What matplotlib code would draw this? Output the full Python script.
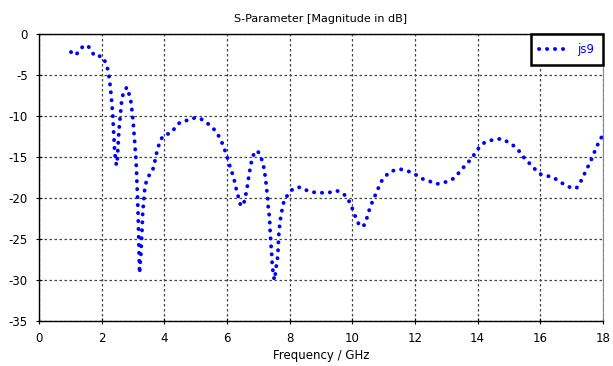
import matplotlib
matplotlib.use("Agg")
import matplotlib.pyplot as plt

freq = [1.02, 1.14, 1.27, 1.40, 1.55, 1.67, 1.77, 1.93, 2.04, 2.15, 2.20, 2.24, 2.28, 2.31,
        2.35, 2.37, 2.39, 2.41, 2.44, 2.47, 2.50, 2.53, 2.55, 2.58, 2.61, 2.64, 2.69, 2.80,
        2.88, 2.93, 2.97, 3.00, 3.03, 3.06, 3.09, 3.11, 3.13, 3.15, 3.17, 3.19, 3.21, 3.22,
        3.25, 3.27, 3.29, 3.31, 3.33, 3.37, 3.40, 3.50, 3.60, 3.66, 3.71, 3.76, 3.82, 3.90,
        4.00, 4.20, 4.33, 4.46, 4.60, 4.80, 4.98, 5.15, 5.30, 5.45, 5.58, 5.70, 5.80, 5.89,
        5.96, 6.03, 6.09, 6.16, 6.22, 6.27, 6.32, 6.38, 6.44, 6.54, 6.59, 6.63, 6.67, 6.70,
        6.74, 6.78, 6.85, 6.96, 7.07, 7.13, 7.19, 7.22, 7.25, 7.27, 7.30, 7.31, 7.34, 7.36,
        7.37, 7.38, 7.40, 7.41, 7.43, 7.44, 7.46, 7.49, 7.51, 7.54, 7.57, 7.61, 7.63, 7.64,
        7.65, 7.67, 7.69, 7.72, 7.76, 7.80, 7.83, 7.93, 8.04, 8.20, 8.37, 8.56, 8.74, 8.92,
        9.11, 9.30, 9.50, 9.67, 9.81, 9.91, 9.99, 10.07, 10.14, 10.25, 10.38, 10.46, 10.52,
        10.59, 10.67, 10.76, 10.84, 10.94, 11.07, 11.20, 11.36, 11.55, 11.75, 11.91, 12.04,
        12.19, 12.34, 12.49, 12.66, 12.85, 13.02, 13.20, 13.33, 13.46, 13.58, 13.73, 13.84,
        13.95, 14.08, 14.23, 14.40, 14.59, 14.79, 14.97, 15.11, 15.25, 15.38, 15.50, 15.61,
        15.73, 15.86, 16.01, 16.18, 16.37, 16.54, 16.70, 16.86, 16.99, 17.15, 17.25, 17.35,
        17.44, 17.53, 17.62, 17.70, 17.79, 17.87, 18.0]

s_db = [-2.2, -2.6, -2.2, -1.5, -1.4, -2.0, -2.7, -2.7, -2.8, -3.7, -4.4, -5.3, -6.6, -7.8,
        -9.6, -11.0, -12.6, -14.0, -15.2, -16.0, -15.2, -13.2, -11.8, -10.6, -9.4, -8.1, -7.2, -6.5,
        -7.4, -8.2, -9.4, -10.5, -12.0, -13.4, -15.0, -16.5, -18.5, -20.5, -23.0, -26.0, -29.2, -28.4,
        -27.0, -25.5, -23.8, -21.8, -20.9, -19.1, -18.3, -17.3, -16.9, -16.2, -15.3, -14.4, -13.6, -12.8,
        -12.3, -12.1, -11.5, -10.9, -10.6, -10.5, -10.2, -10.3, -10.7, -11.1, -11.6, -12.2, -12.9, -13.7,
        -14.5, -15.3, -16.1, -16.9, -17.6, -18.5, -19.3, -20.1, -21.0, -20.6, -19.8, -19.0, -18.1, -17.2,
        -16.4, -15.6, -14.7, -14.2, -14.8, -15.6, -16.5, -17.4, -18.3, -19.1, -20.0, -20.9, -21.8, -22.6,
        -23.5, -24.4, -25.3, -26.1, -27.0, -27.9, -28.7, -29.5, -30.0, -29.3, -28.4, -27.4, -26.3, -25.4,
        -24.6, -23.8, -23.0, -22.2, -21.4, -20.7, -20.1, -19.7, -19.1, -18.7, -18.7, -19.1, -19.3, -19.3,
        -19.4, -19.3, -19.1, -19.4, -19.8, -20.5, -21.2, -22.0, -22.7, -23.5, -23.3, -22.5, -21.7,
        -20.9, -20.2, -19.4, -18.7, -17.9, -17.3, -16.8, -16.6, -16.5, -16.7, -16.9, -17.2,
        -17.6, -17.8, -18.0, -18.3, -18.2, -18.0, -17.7, -17.2, -16.7, -16.1, -15.5, -15.0,
        -14.3, -13.7, -13.2, -13.0, -12.8, -12.8, -13.2, -13.5, -14.0, -14.5, -15.2, -15.6,
        -16.1, -16.6, -17.1, -17.3, -17.4, -17.8, -18.2, -18.5, -18.8, -18.8, -18.3, -17.5,
        -16.8, -16.1, -15.4, -14.6, -13.9, -13.1, -12.3]

x_ticks = [0, 2, 4, 6, 8, 10, 12, 14, 16, 18]
y_ticks = [0, -5, -10, -15, -20, -25, -30, -35]
series_name = "js9"
title = "S-Parameter [Magnitude in dB]"
xlabel = "Frequency / GHz"

plt.rcParams['font.family'] = ['DejaVu Sans']
plt.rcParams['axes.unicode_minus'] = False

fig = plt.figure(figsize=(6.13, 3.66), dpi=100)
ax = fig.add_axes([39/613, 1-321/366, (603-39)/613, (321-34)/366])

ax.plot(freq, s_db, color='#0000ff', linewidth=2.8,
        linestyle=(0, (0.05, 2.0)), dash_capstyle='round', label=series_name)

ax.set_xlim(0, 18)
ax.set_ylim(-35, 0)
ax.set_xticks(x_ticks)
ax.set_yticks(y_ticks)
ax.set_xticklabels([str(v) for v in x_ticks])
ax.set_yticklabels([str(v) for v in y_ticks])
ax.grid(True, color='#444444', linestyle=(0, (2, 2)), linewidth=0.9)
ax.tick_params(direction='inout', length=4, width=0.8, labelsize=8.5, colors='#000000', pad=6)
for s in ['left', 'bottom', 'top']:
    ax.spines[s].set_color('#000000')
    ax.spines[s].set_linewidth(1.0)
ax.spines['right'].set_color('#888888')

ax.set_title(title, fontsize=8, pad=9)
ax.set_xlabel(xlabel, fontsize=8.5, labelpad=3)

leg = ax.legend(loc='upper right', borderaxespad=0, fancybox=False, fontsize=8.5,
                handlelength=2.6, handletextpad=0.6, borderpad=0.75, framealpha=1)
leg.get_frame().set_edgecolor('#000000')
leg.get_frame().set_linewidth(1.8)
for t in leg.get_texts():
    t.set_color('#0000ff')

fig.savefig('out.png', dpi=100)
